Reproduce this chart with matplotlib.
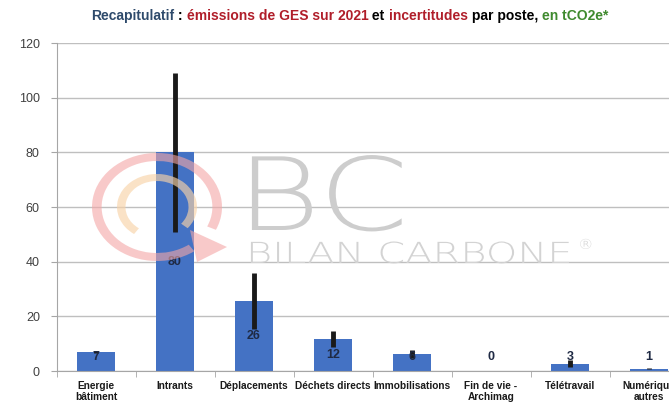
import numpy as np
import matplotlib.pyplot as plt
from matplotlib.patches import Wedge, Polygon, PathPatch
from matplotlib.textpath import TextPath
from matplotlib.font_manager import FontProperties
from matplotlib.transforms import Affine2D

# ************ DATA ***************

CATEGORIES = ['Energie\nbâtiment', 'Intrants', 'Déplacements', 'Déchets directs', 'Immobilisations',
              'Fin de vie -\nArchimag', 'Télétravail', 'Numérique\nautres']
EMISSIONS = [7.0, 80.0, 25.6, 11.6, 6.2, 0.1, 2.6, 0.8]
UNCERTAINTY = [0.4, 29.0, 10.3, 3.0, 1.6, 0.0, 1.3, 0.2]
Y_TICKS = [0, 20, 40, 60, 80, 100, 120]

BAR_COLOR = '#4472C4'
LABEL_COLOR = '#1F2A44'

plt.rcParams['font.family'] = ['Liberation Sans', 'DejaVu Sans']

fig = plt.figure(figsize=(6.69, 4.05), dpi=100)
ax = fig.add_axes([56.5 / 669, 34 / 405, 632 / 669, 328 / 405])

x = np.arange(len(CATEGORIES))


# *********** WATERMARK (pixel coords, stretched like the logo) ***********

def add_logo_text(s, x0, y0, size, sx, color):
    tp = TextPath((0, 0), s, size=size, prop=FontProperties(family='DejaVu Sans', weight='light'))
    tr = Affine2D().scale(sx, 1.0).translate(x0, y0)
    fig.patches.append(PathPatch(tr.transform_path(tp), color=color, lw=0, transform=None, zorder=0.5))


def ring(rx, ry, width, a1, a2, color, alpha):
    w = Wedge((0, 0), ry, a1, a2, width=width, color=color, alpha=alpha, lw=0)
    w.set_transform(Affine2D().scale(rx / ry, 1.0).translate(157, 405 - 207))
    w.set_zorder(0.5)
    fig.patches.append(w)


ring(65, 54, 8, -25, 305, '#F4A6A6', 0.6)
ring(40, 33, 7, -40, 235, '#F8D3A8', 0.65)
fig.patches.append(Polygon([[190, 405 - 230], [227, 405 - 247], [197, 405 - 262]], closed=True,
                           color='#F4A6A6', alpha=0.6, lw=0, transform=None, zorder=0.5))
add_logo_text('BC', 236, 405 - 230, 101, 1.28, '#CDCDCD')
add_logo_text('BILAN CARBONE', 246, 405 - 263, 29, 1.38, '#D3D3D3')
add_logo_text('®', 578, 405 - 249, 14, 1.1, '#D3D3D3')


# *********** BARS ***************

ax.set_facecolor('none')
ax.bar(x, EMISSIONS, width=0.48, color=BAR_COLOR, zorder=2)
ax.errorbar(x, EMISSIONS, yerr=UNCERTAINTY, fmt='none', ecolor='#1A1A1A', elinewidth=3.5,
            capsize=0, zorder=3)

for xi, v in zip(x, EMISSIONS):
    ax.text(xi, max(v / 2, 5.0), f'{v:.0f}', ha='center', va='center', fontsize=9,
            fontweight='bold', color=LABEL_COLOR, zorder=4)

ax.set_xlim(-0.5, len(CATEGORIES) - 0.5)
ax.set_ylim(0, 120)
ax.set_yticks(Y_TICKS)
ax.yaxis.grid(True, color='#BFBFBF', linewidth=1.0, zorder=1)
ax.set_axisbelow(True)

ax.set_xticks(x)
ax.set_xticklabels(CATEGORIES, fontsize=7.3, fontweight='bold', color='#1A1A1A', linespacing=1.1)
ax.set_xticks(np.arange(len(CATEGORIES) + 1) - 0.5, minor=True)
ax.tick_params(axis='x', which='major', length=0, pad=7)
ax.tick_params(axis='x', which='minor', length=4, color='#A6A6A6')
ax.tick_params(axis='y', length=4, color='#A6A6A6', labelsize=9, labelcolor='#404040', pad=8)

for s in ('top', 'right'):
    ax.spines[s].set_visible(False)
ax.spines['left'].set_color('#A6A6A6')
ax.spines['bottom'].set_color('#A6A6A6')

# multicoloured title
parts = [('Recapitulatif', '#2E4A6B'), (' : ', '#000000'), ('émissions de GES sur 2021', '#B01E2A'),
         (' et ', '#000000'), ('incertitudes', '#B01E2A'), (' par poste, ', '#000000'),
         ('en tCO2e*', '#3F8A2E')]
renderer = fig.canvas.get_renderer()
xpos = 91 / 669
for txt, col in parts:
    t = fig.text(xpos, (405 - 16) / 405, txt, fontsize=10, fontweight='bold', color=col,
                 va='center', ha='left')
    bb = t.get_window_extent(renderer=renderer)
    xpos += bb.width / 669

fig.savefig('out.png', dpi=100)
